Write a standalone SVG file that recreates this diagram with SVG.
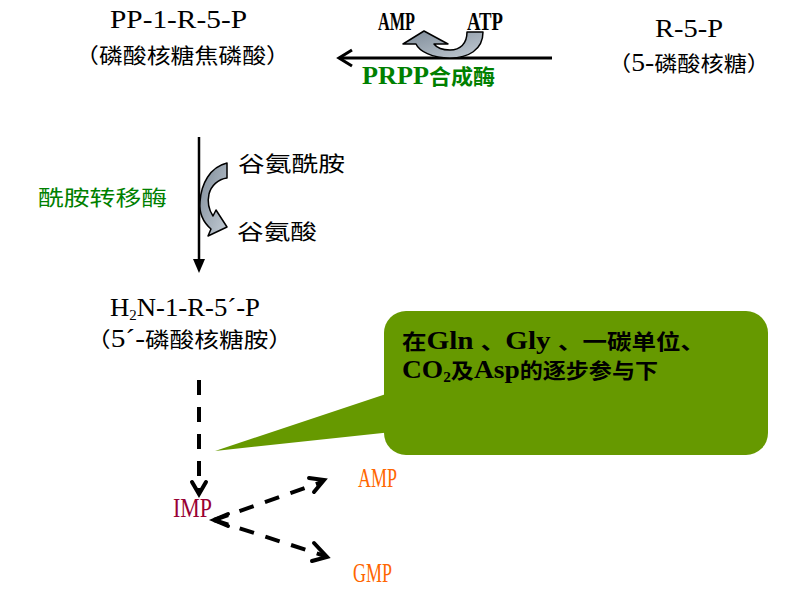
<svg xmlns="http://www.w3.org/2000/svg" width="797" height="595" viewBox="0 0 797 595">
<defs>
<style>
.t{font-family:"Liberation Serif","Noto Sans CJK SC",serif;font-size:21px;fill:#000}
.L{font-size:25px}
.B{font-size:27px}
.g{fill:#008000}
.o{fill:#ff6600}
.r{fill:#990033}
.c{font-weight:bold}
.dash{stroke:#000;stroke-width:4;fill:none;stroke-dasharray:15 12}
.chev{stroke:#000;stroke-width:4;fill:none;stroke-linecap:round;stroke-linejoin:miter}
.curl{fill:url(#gr);stroke:#000;stroke-width:1.5;stroke-linejoin:round}
</style>
<linearGradient id="gr" x1="0" y1="0" x2="1" y2="1">
<stop offset="0" stop-color="#7d8a97"/>
<stop offset="1" stop-color="#c3ccd5"/>
</linearGradient>
</defs>
<rect width="797" height="595" fill="#fff"/>

<g id="node-prpp">
<text class="t L" x="110" y="28" textLength="137" lengthAdjust="spacingAndGlyphs">PP-1-R-5-P</text>
<text class="t" x="75" y="63" textLength="215" lengthAdjust="spacingAndGlyphs">（磷酸核糖焦磷酸）</text>
</g>
<g id="node-r5p">
<text class="t L" x="655" y="37" textLength="68" lengthAdjust="spacingAndGlyphs">R-5-P</text>
<text class="t" x="608" y="71" textLength="162" lengthAdjust="spacingAndGlyphs">（<tspan class="L">5-</tspan>磷酸核糖）</text>
</g>
<g id="node-pra">
<text class="t L" x="110" y="316" textLength="150" lengthAdjust="spacingAndGlyphs">H<tspan style="font-size:14px" dy="4">2</tspan><tspan dy="-4">N-1-R-5´-P</tspan></text>
<text class="t" x="86" y="347" textLength="207" lengthAdjust="spacingAndGlyphs">（<tspan class="L">5´-</tspan>磷酸核糖胺）</text>
</g>
<g id="node-imp">
<text class="t B r" x="173" y="517" textLength="39" lengthAdjust="spacingAndGlyphs">IMP</text>
</g>
<g id="node-amp">
<text class="t B o" x="358" y="487" textLength="39" lengthAdjust="spacingAndGlyphs">AMP</text>
</g>
<g id="node-gmp">
<text class="t B o" x="353" y="582" textLength="39" lengthAdjust="spacingAndGlyphs">GMP</text>
</g>

<g id="callout">
<polygon points="215,451 392,392 392,432" fill="#669900"/>
<rect x="384" y="311" width="384" height="144" rx="22" fill="#669900"/>
<text class="t c" x="402" y="349" textLength="303" lengthAdjust="spacingAndGlyphs">在<tspan class="L">Gln </tspan>、<tspan class="L">Gly </tspan>、一碳单位、</text>
<text class="t c" x="402" y="378" textLength="256" lengthAdjust="spacingAndGlyphs"><tspan class="L">CO</tspan><tspan style="font-size:14px" dy="4">2</tspan><tspan dy="-4">及</tspan><tspan class="L">Asp</tspan>的逐步参与下</text>
</g>

<g id="connectors">
<line x1="552" y1="58" x2="339" y2="58" stroke="#000" stroke-width="3"/>
<polyline points="352,50 339,58 352,66" stroke="#000" stroke-width="3" fill="none"/>
<path class="curl" d="M467,32 L483,32 C483,50 468,58 450,58 C432,58 419,51 416,44 L403,44 L424,31 L448,44 L434,44 C437,48 443,50 450,50 C460,50 467,44 467,32 Z"/>
<text class="t L c" x="378" y="30" textLength="37" lengthAdjust="spacingAndGlyphs">AMP</text>
<text class="t L c" x="467" y="30" textLength="36" lengthAdjust="spacingAndGlyphs">ATP</text>
<text class="t g c" x="362" y="84" textLength="133" lengthAdjust="spacingAndGlyphs"><tspan class="L">PRPP</tspan>合成酶</text>

<line x1="199" y1="137" x2="199" y2="262" stroke="#000" stroke-width="2.5"/>
<polygon points="193,259 205,259 199,273" fill="#000"/>
<path class="curl" d="M227,163 L227,178 C218,179 211,186 209,194 C207,203 209,210 213,216 L216,210 L227,227 L208,236 L211,229 C203,222 199,213 200,202 C201,184 210,167 227,163 Z"/>
<text class="t" x="238" y="171" textLength="107" lengthAdjust="spacingAndGlyphs">谷氨酰胺</text>
<text class="t" x="237" y="239" textLength="80" lengthAdjust="spacingAndGlyphs">谷氨酸</text>
<text class="t g" x="38" y="205" textLength="129" lengthAdjust="spacingAndGlyphs">酰胺转移酶</text>

<line class="dash" x1="199" y1="380" x2="199" y2="492"/>
<polyline class="chev" points="192,482 199,494 206,482"/>
<line class="dash" x1="214" y1="520" x2="322" y2="482"/>
<polyline class="chev" points="309,478 324,480 314,492"/>
<line class="dash" x1="214" y1="520" x2="325" y2="556"/>
<polyline class="chev" points="314,543 327,557 312,561"/>
<polyline class="chev" points="228,514 214,520 228,526"/>
</g>
</svg>
